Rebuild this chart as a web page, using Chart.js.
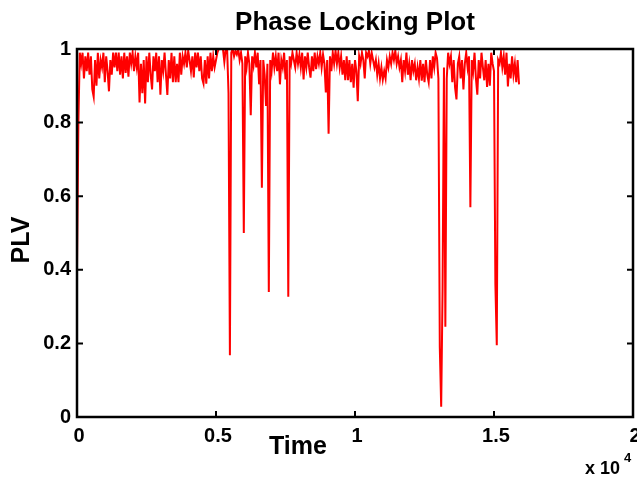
<!DOCTYPE html>
<html>
<head>
<meta charset="utf-8">
<script src="https://cdn.jsdelivr.net/npm/chart.js@4"></script>
<style>
  html, body { margin: 0; padding: 0; background: #fff; }
  #wrap { width: 637px; height: 479px; }
</style>
</head>
<body>
<div id="wrap"><canvas id="plvChart" width="637" height="479"></canvas></div>
<script>
// time between two samples of the PLV trace
const sampleStep = 50;

// PLV values, one every 50 time units (0 .. 15900)
const plvValues = [
  0.41, 0.80, 0.99, 0.96, 0.99, 0.92, 0.98, 0.94, 0.99, 0.93,
  0.98, 0.89, 0.87, 0.97, 0.90, 0.99, 0.92, 0.97, 0.95, 0.99,
  0.91, 0.98, 0.94, 0.885, 0.97, 0.93, 0.99, 0.95, 0.99, 0.94,
  0.99, 0.93, 0.98, 0.92, 0.99, 0.935, 0.98, 0.925, 0.99, 0.96,
  0.99, 0.94, 0.98, 0.95, 0.99, 0.855, 0.96, 0.88, 0.97, 0.852,
  0.98, 0.91, 0.99, 0.93, 0.89, 0.98, 0.94, 0.99, 0.91, 0.98,
  0.876, 0.97, 0.94, 0.99, 0.93, 0.875, 0.97, 0.92, 0.99, 0.91,
  0.98, 0.91, 0.96, 0.91, 0.99, 0.93, 0.98, 0.96, 0.99, 0.95,
  0.995, 0.97, 0.94, 0.98, 0.923, 0.99, 0.95, 0.99, 0.94, 0.98,
  0.92, 0.906, 0.97, 0.906, 0.98, 0.92, 0.99, 0.94, 0.98, 0.95,
  0.97, 0.99, 1.0, 1.0, 1.0, 1.0, 0.965, 1.0, 1.0, 0.88,
  0.168, 0.99, 1.0, 0.98, 0.995, 0.985, 1.0, 0.97, 0.99, 0.96,
  0.50, 0.98, 0.95, 0.99, 0.96, 0.82, 0.98, 0.955, 0.99, 0.95,
  0.99, 0.904, 0.97, 0.623, 0.97, 0.93, 0.845, 0.96, 0.34, 0.97,
  0.94, 0.99, 0.95, 0.98, 0.94, 0.99, 0.904, 0.97, 0.95, 0.99,
  0.917, 0.97, 0.327, 0.98, 0.96, 0.99, 0.97, 0.95, 0.99, 0.96,
  0.985, 0.95, 0.99, 0.917, 0.98, 0.95, 0.99, 0.95, 0.922, 0.98,
  0.94, 0.99, 0.945, 0.98, 0.96, 0.99, 0.95, 0.985, 0.96, 0.882,
  0.97, 0.77, 0.98, 0.94, 0.99, 0.96, 0.995, 0.96, 0.99, 0.95,
  0.98, 0.93, 0.97, 0.915, 0.98, 0.915, 0.97, 0.91, 0.96, 0.895,
  0.97, 0.94, 0.858, 0.98, 0.96, 0.99, 0.97, 0.92, 0.99, 0.98,
  0.995, 0.96, 0.99, 0.97, 0.95, 0.97, 0.93, 0.96, 0.92, 0.95,
  0.917, 0.94, 0.92, 0.97, 0.95, 0.98, 0.96, 0.99, 0.97, 0.995,
  0.96, 0.98, 0.95, 0.97, 0.91, 0.97, 0.94, 0.99, 0.93, 0.96,
  0.915, 0.97, 0.94, 0.96, 0.915, 0.95, 0.92, 0.97, 0.914, 0.96,
  0.91, 0.97, 0.93, 0.91, 0.97, 0.92, 0.98, 0.95, 0.99, 0.975,
  0.92, 0.19, 0.028, 0.345, 0.95, 0.245, 0.92, 0.99, 0.96, 0.98,
  0.91, 0.97, 0.895, 0.863, 0.96, 0.98, 0.92, 0.97, 0.89, 0.96,
  0.99, 0.95, 0.98, 0.57, 0.97, 0.94, 0.99, 0.92, 0.876, 0.97,
  0.92, 0.99, 0.95, 0.915, 0.97, 0.897, 0.96, 0.90, 0.99, 0.96,
  0.94, 0.36, 0.195, 0.97, 0.96, 0.99, 0.95, 0.98, 0.93, 0.99,
  0.898, 0.96, 0.92, 0.98, 0.93, 0.96, 0.91, 0.97, 0.904
];

// axis ticks (x shown in units of 10^4)
const xTickValues = [0, 5000, 10000, 15000, 20000];
const xTickLabels = ['0', '0.5', '1', '1.5', '2'];
const yTickValues = [0, 0.2, 0.4, 0.6, 0.8, 1];
const yTickLabels = ['0', '0.2', '0.4', '0.6', '0.8', '1'];

const chartTitle = 'Phase Locking Plot';
const xTitle = 'Time';
const yTitle = 'PLV';

const points = plvValues.map((v, i) => ({ x: i * sampleStep, y: v }));

// draws the matlab-like box, inward ticks and all the text
const matlabAxes = {
    id: 'matlabAxes',
    afterDatasetsDraw(chart) {
        const ctx = chart.ctx;
        const area = chart.chartArea;
        const xs = chart.scales.x;
        const ys = chart.scales.y;
        const tickLen = 6;

        ctx.save();
        ctx.strokeStyle = '#000';
        ctx.lineWidth = 2.5;
        ctx.strokeRect(area.left, area.top, area.right - area.left, area.bottom - area.top);

        ctx.lineWidth = 2;
        ctx.beginPath();
        xTickValues.forEach(v => {
            const px = xs.getPixelForValue(v);
            ctx.moveTo(px, area.bottom); ctx.lineTo(px, area.bottom - tickLen);
            ctx.moveTo(px, area.top); ctx.lineTo(px, area.top + tickLen);
        });
        yTickValues.forEach(v => {
            const py = ys.getPixelForValue(v);
            ctx.moveTo(area.left, py); ctx.lineTo(area.left + tickLen, py);
            ctx.moveTo(area.right, py); ctx.lineTo(area.right - tickLen, py);
        });
        ctx.stroke();

        ctx.fillStyle = '#000';
        ctx.font = 'bold 20px "Liberation Sans", Arial, sans-serif';

        // y tick labels
        ctx.textAlign = 'right';
        ctx.textBaseline = 'middle';
        yTickValues.forEach((v, i) => {
            ctx.fillText(yTickLabels[i], area.left - 6, ys.getPixelForValue(v));
        });

        // x tick labels
        ctx.textAlign = 'center';
        ctx.textBaseline = 'top';
        xTickValues.forEach((v, i) => {
            ctx.fillText(xTickLabels[i], xs.getPixelForValue(v) + 2, area.bottom + 9);
        });

        // exponent
        ctx.font = 'bold 18px "Liberation Sans", Arial, sans-serif';
        ctx.textAlign = 'left';
        ctx.textBaseline = 'alphabetic';
        ctx.fillText('x 10', 585, 474);
        ctx.font = 'bold 13px "Liberation Sans", Arial, sans-serif';
        ctx.fillText('4', 624, 462);

        // axis titles
        ctx.font = 'bold 25px "Liberation Sans", Arial, sans-serif';
        ctx.textAlign = 'center';
        ctx.textBaseline = 'middle';
        ctx.fillText(xTitle, 298, 447);
        ctx.save();
        ctx.translate(22, 240);
        ctx.rotate(-Math.PI / 2);
        ctx.fillText(yTitle, 0, 0);
        ctx.restore();

        // title
        ctx.font = 'bold 26px "Liberation Sans", Arial, sans-serif';
        ctx.fillText(chartTitle, (area.left + area.right) / 2, 23);
        ctx.restore();
    }
};

new Chart(document.getElementById('plvChart'), {
    type: 'line',
    data: {
        datasets: [{
            data: points,
            borderColor: '#ff0000',
            borderWidth: 2,
            pointRadius: 0,
            tension: 0,
            fill: false
        }]
    },
    options: {
        responsive: false,
        animation: false,
        layout: { padding: { left: 77, top: 49, right: 4, bottom: 62 } },
        plugins: { legend: { display: false }, tooltip: { enabled: false } },
        scales: {
            x: { type: 'linear', min: 0, max: 20000, display: false },
            y: { min: 0, max: 1, display: false }
        }
    },
    plugins: [matlabAxes]
});
</script>
</body>
</html>
